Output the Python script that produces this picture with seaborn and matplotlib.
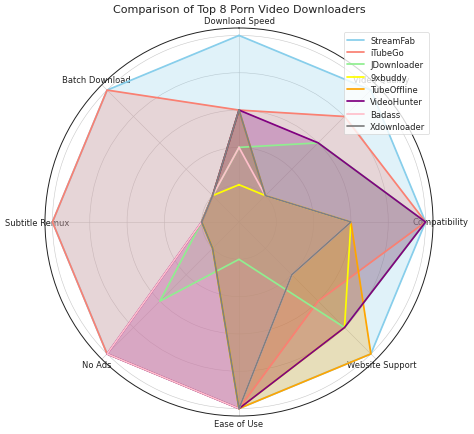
import numpy as np
import pandas as pd
import matplotlib
matplotlib.use("Agg")
import matplotlib.pyplot as plt
import seaborn as sns

categories = ["Download Speed", "Video Quality", "Compatibility", "Website Support",
              "Ease of Use", "No Ads", "Subtitle Remux", "Batch Download"]
tools = ["StreamFab", "iTubeGo", "JDownloader", "9xbuddy", "TubeOffline",
         "VideoHunter", "Badass", "Xdownloader"]
streamfab = [10, 10, 10, 10, 10, 10, 10, 10]
itubego = [6, 8, 10, 6, 10, 10, 10, 10]
jdownloader = [4, 6, 10, 8, 2, 6, 2, 2]
xbuddy = [2, 2, 6, 8, 10, 2, 2, 2]
tubeoffline = [6, 2, 6, 10, 10, 2, 2, 2]
videohunter = [6, 6, 10, 8, 10, 10, 2, 2]
badass = [4, 2, 6, 4, 10, 10, 2, 2]
xdownloader = [6, 2, 6, 4, 10, 2, 2, 2]
colors = ["skyblue", "salmon", "lightgreen", "yellow", "orange", "purple", "pink", "grey"]

series = [streamfab, itubego, jdownloader, xbuddy, tubeoffline, videohunter, badass, xdownloader]

sns.set_theme(style="whitegrid")
plt.rcParams["font.family"] = ["DejaVu Sans"]
plt.rcParams.update({
    "axes.edgecolor": "#222222",
    "grid.color": "#c8c8c8",
    "grid.linewidth": 0.8,
    "text.color": "#222222",
    "xtick.color": "#222222",
})

n = len(categories)
angles = np.linspace(0, 2 * np.pi, n, endpoint=False).tolist()
angles_closed = angles + angles[:1]

rows = []
for tool, vals in zip(tools, series):
    for a, v in zip(angles_closed, vals + vals[:1]):
        rows.append({"tool": tool, "angle": a, "score": v})
df = pd.DataFrame(rows)

fig = plt.figure(figsize=(9.48, 8.70), dpi=50)
ax = fig.add_axes([45 / 474, 18 / 435, 388 / 474, 388 / 435], polar=True)
ax.set_theta_offset(np.pi / 2)
ax.set_theta_direction(-1)

for tool, col in zip(tools, colors):
    sub = df[df["tool"] == tool]
    sns.lineplot(data=sub, x="angle", y="score", ax=ax, color=col, linewidth=2.5,
                 sort=False, estimator=None, label=tool)
    ax.fill(sub["angle"], sub["score"], color=col, alpha=0.25)

ax.set_ylim(0, 10.4)
ax.set_yticks([2, 4, 6, 8, 10])
ax.set_yticklabels([])
ax.set_xticks(angles)
ax.set_xticklabels(categories, fontsize=12)
ax.tick_params(axis="x", pad=-2)
ax.set_xlabel("")
ax.set_ylabel("")
ax.spines["polar"].set_linewidth(1.4)
ax.set_title("Comparison of Top 8 Porn Video Downloaders", fontsize=16)
ax.legend(loc="upper right", fontsize=12, labelspacing=0.4)

fig.savefig("out.png", dpi=50)
